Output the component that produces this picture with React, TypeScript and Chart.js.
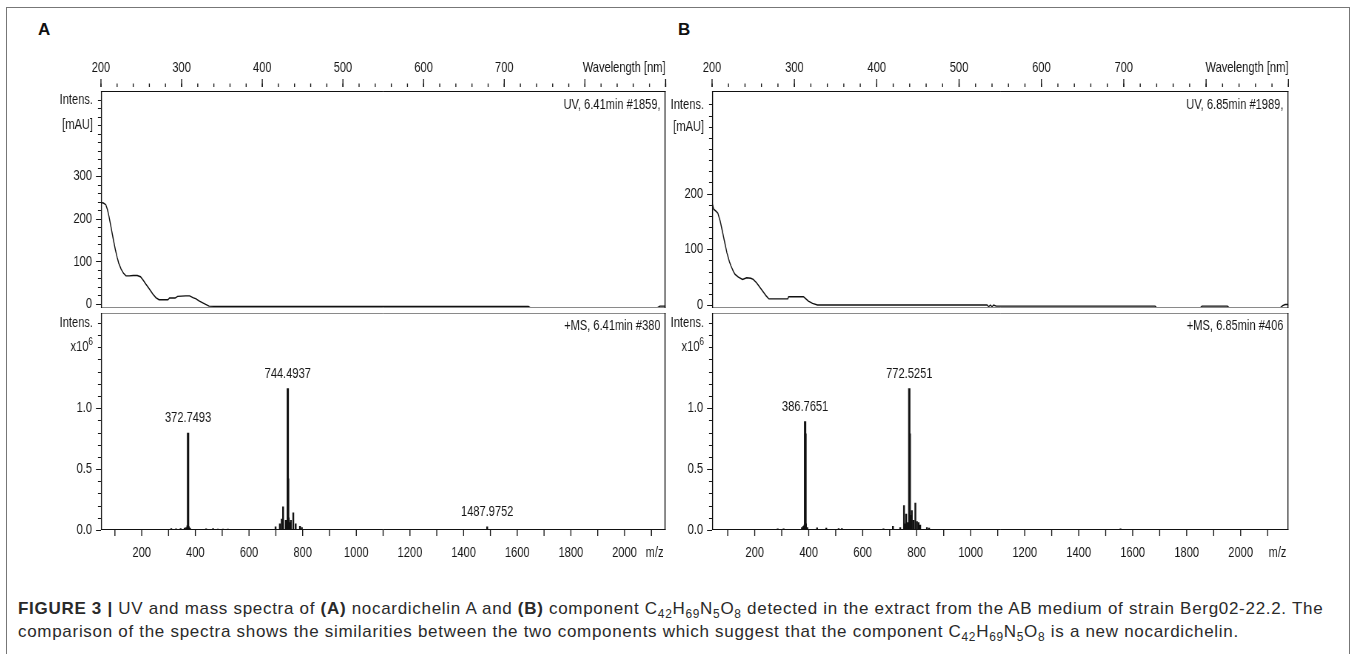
import React, { useEffect, useRef } from "react";
import { Chart, registerables } from "chart.js";

Chart.register(...registerables);

const SANS = "'Liberation Sans', Arial, Helvetica, sans-serif";
const INK = "#161616";

// ---------- Panel A: UV spectrum (nm, mAU)
const uvA_nm = [200, 203, 206, 208, 210, 212, 214, 216, 218, 220, 222, 225, 228, 231, 235, 240, 245, 249, 252, 256, 260, 264, 268, 272, 278, 283, 285, 292, 295, 305, 310, 314, 318, 321, 325, 328, 331, 334, 340, 500, 730, 732, 890, 893, 900];
const uvA_mAU = [238, 237, 233, 222, 205, 185, 165, 145, 126, 110, 96, 82, 72, 66, 66, 67, 67, 64, 57, 46, 35, 24, 15, 10, 10, 10, 14, 14, 18, 19, 19, 15, 12, 8, 4, 1, -2, -5, -5.5, -5.5, -5.5, -8.5, -8.5, -5, -5];

// ---------- Panel B: UV spectrum (nm, mAU)
const uvB_nm = [200, 202, 205, 207, 210, 212, 215, 218, 221, 223, 226, 228, 232, 237, 242, 247, 250, 254, 258, 262, 266, 269, 280, 292, 293, 311, 314, 317, 322, 328, 534, 536, 538, 540, 542, 545, 548, 738, 740, 793, 795, 826, 828, 890, 893, 896, 899, 900];
const uvB_mAU = [183, 172, 168, 165, 150, 136, 115, 94, 78, 70, 60, 55, 50, 46, 49, 48, 46, 40, 32, 24, 16, 11, 11, 11, 15, 15, 11, 7, 3, 0, 0, -3, 0, -3, 0, -2, -2, -2, -5, -5, -2, -2, -5, -5, -1, 1, 1, -1];

// ---------- Panel A: mass spectrum (m/z, intensity x10^6)
const msA_mz = [310, 328, 345, 360, 366, 370, 372.7493, 373.8, 375.5, 380, 440, 466, 484, 503, 521, 699, 715, 722, 727, 737, 742, 744.4937, 745.6, 748, 752, 756, 765, 774, 790, 797, 1487.9752];
const msA_int = [0.012, 0.01, 0.012, 0.015, 0.02, 0.035, 0.795, 0.03, 0.025, 0.015, 0.01, 0.012, 0.008, 0.008, 0.008, 0.025, 0.05, 0.09, 0.19, 0.08, 0.06, 1.16, 0.42, 0.1, 0.06, 0.08, 0.14, 0.05, 0.03, 0.02, 0.025];
const msA_labelMz = [372.7493, 744.4937, 1487.9752];
const msA_labelInt = [0.795, 1.16, 0.025];

// ---------- Panel B: mass spectrum (m/z, intensity x10^6)
const msB_mz = [285, 307, 375, 380, 384, 386.7651, 387.9, 390, 395, 431, 465, 511, 523, 677, 712, 739, 753, 757, 761, 766, 772.5251, 774.3, 778, 782, 788, 795, 801, 807, 813, 838, 846, 1555];
const msB_int = [0.01, 0.01, 0.02, 0.03, 0.04, 0.89, 0.79, 0.05, 0.02, 0.018, 0.015, 0.012, 0.012, 0.01, 0.03, 0.02, 0.2, 0.05, 0.13, 0.06, 1.16, 0.79, 0.12, 0.16, 0.08, 0.22, 0.07, 0.06, 0.04, 0.02, 0.015, 0.01];
const msB_labelMz = [386.7651, 772.5251];
const msB_labelInt = [0.89, 1.16];

// ---------- Tick labels
const wlLabelTicks = [200, 300, 400, 500, 600, 700];
const mzLabelTicks = [200, 400, 600, 800, 1000, 1200, 1400, 1600, 1800, 2000];
const uvA_yLabels = [0, 100, 200, 300];
const uvB_yLabels = [0, 100, 200];
const ms_yLabels = [0, 0.5, 1.0];

function range(a: number, b: number, step: number): number[] {
  const out: number[] = [];
  for (let v = a; v <= b + 1e-9; v += step) out.push(Math.round(v * 1000) / 1000);
  return out;
}

// horizontal compression of the chart canvases (narrow instrument font look)
const K = 0.74;
const TOP_AXIS_H = 41;
const BOTTOM_AXIS_H = 50;
const PAD_FREE = 20;
const FONT_PX = 15;

function drawText(ctx: CanvasRenderingContext2D, text: string, x: number, y: number, align: CanvasTextAlign, size = FONT_PX) {
  ctx.save();
  ctx.font = `${size}px ${SANS}`;
  ctx.textAlign = align;
  ctx.textBaseline = "middle";
  ctx.fillStyle = INK;
  ctx.fillText(text, x, y);
  ctx.restore();
}

type TickSpec = { scale: string; side: "left" | "top" | "bottom"; values: number[]; len: number; offset?: number };
type SpecCfg = {
  frame: { top: string; bottom: string; left: string; right: string };
  ticks: TickSpec[];
  corner: string;
  cornerY: number;
  axisWord: string;
  axisSide: "top" | "bottom";
  yWords: { text: string; value: number; sup?: string }[];
  peakMz?: number[];
  peakInt?: number[];
};

function specPlugin(cfg: SpecCfg) {
  return {
    id: "spec",
    afterDraw(chart: any) {
      const { ctx, chartArea: a, scales } = chart;
      const ys = scales.y;
      const xs = scales.x;
      ctx.save();
      ctx.strokeStyle = INK;
      for (const t of cfg.ticks) {
        const sc = scales[t.scale];
        ctx.beginPath();
        for (const v of t.values) {
          const p = sc.getPixelForValue(v);
          if (t.side === "left") {
            const py = Math.round(p) + 0.5;
            ctx.moveTo(a.left, py);
            ctx.lineTo(a.left - t.len / K, py);
          } else if (t.side === "top") {
            const y0 = a.top - (t.offset || 0);
            ctx.moveTo(p, y0);
            ctx.lineTo(p, y0 - t.len);
          } else {
            const y0 = a.bottom + (t.offset || 0);
            ctx.moveTo(p, y0);
            ctx.lineTo(p, y0 + t.len);
          }
        }
        ctx.lineWidth = t.side === "left" ? 1 : 1 / K;
        ctx.stroke();
      }
      const L = a.left + 0.5 / K;
      const R = a.right - 0.5 / K;
      const T = Math.round(a.top) + 0.5;
      const B = Math.round(a.bottom) - 0.5;
      const seg = (x1: number, y1: number, x2: number, y2: number, c: string, w: number) => {
        ctx.strokeStyle = c;
        ctx.lineWidth = w;
        ctx.beginPath();
        ctx.moveTo(x1, y1);
        ctx.lineTo(x2, y2);
        ctx.stroke();
      };
      seg(a.left, T, a.right, T, cfg.frame.top, 1);
      seg(a.left, B, a.right, B, cfg.frame.bottom, 1);
      seg(L, T - 0.5, L, B + 0.5, cfg.frame.left, 1 / K);
      seg(R, T - 0.5, R, B + 0.5, cfg.frame.right, 1 / K);

      drawText(ctx, cfg.corner, a.right - 5 / K, a.top + cfg.cornerY, "right");
      if (cfg.axisSide === "top") drawText(ctx, cfg.axisWord, a.right, a.top - 23, "right");
      else drawText(ctx, cfg.axisWord, a.right - 2 / K, a.bottom + 23, "right");
      for (const w of cfg.yWords) {
        const y = ys.getPixelForValue(w.value);
        const xr = a.left - 8 / K;
        if (w.sup) {
          ctx.save();
          ctx.font = `11px ${SANS}`;
          const sw = ctx.measureText(w.sup).width;
          ctx.restore();
          drawText(ctx, w.sup, xr, y - 5, "right", 11);
          drawText(ctx, w.text, xr - sw, y, "right");
        } else {
          drawText(ctx, w.text, xr, y, "right");
        }
      }
      if (cfg.peakMz && cfg.peakInt) {
        cfg.peakMz.forEach((m, i) => {
          const px = xs.getPixelForValue(m);
          const py = ys.getPixelForValue(cfg.peakInt![i]);
          drawText(ctx, m.toFixed(4), px, py - 15, "center");
        });
      }
      ctx.restore();
    },
  };
}

const tickFont = { family: SANS, size: FONT_PX };

type Geo = { left: number; top: number; wc: number; yW: number; padR: number };
function geo(screenLeft: number, plotLeft: number, plotRight: number, top: number): Geo {
  const wc = Math.ceil((plotRight + 14 - screenLeft) / K);
  return { left: screenLeft, top, wc, yW: (plotLeft - screenLeft) / K, padR: wc - (plotRight - screenLeft) / K };
}

function uvChart(canvas: HTMLCanvasElement, g: Geo, nm: number[], mau: number[], yMin: number, yMax: number, yLabels: number[], minorTop: number, words: { text: string; value: number }[], corner: string) {
  return new Chart(canvas, {
    type: "line",
    data: {
      datasets: [
        {
          data: nm.map((x, i) => ({ x, y: mau[i] })),
          borderColor: "#111",
          borderWidth: 1.4,
          pointRadius: 0,
          tension: 0,
          fill: false,
        },
      ],
    },
    options: {
      animation: false,
      responsive: false,
      devicePixelRatio: 1,
      events: [],
      layout: { padding: { left: 0, top: 0, right: g.padR, bottom: PAD_FREE } },
      plugins: { legend: { display: false }, tooltip: { enabled: false } },
      scales: {
        x: {
          type: "linear",
          position: "top",
          min: 200,
          max: 900,
          afterBuildTicks: (s: any) => {
            s.ticks = wlLabelTicks.map((v) => ({ value: v }));
          },
          afterFit: (s: any) => {
            s.height = TOP_AXIS_H;
          },
          grid: { display: false, drawTicks: false },
          border: { display: false },
          ticks: { padding: 14, autoSkip: false, maxRotation: 0, font: tickFont, color: INK, callback: (v: any) => String(v) },
        },
        y: {
          type: "linear",
          min: yMin,
          max: yMax,
          afterBuildTicks: (s: any) => {
            s.ticks = yLabels.map((v) => ({ value: v }));
          },
          afterFit: (s: any) => {
            s.width = g.yW;
          },
          grid: { display: false, drawTicks: false },
          border: { display: false },
          ticks: { padding: 9 / K, autoSkip: false, font: tickFont, color: INK, callback: (v: any) => String(v) },
        },
      },
    } as any,
    plugins: [
      specPlugin({
        frame: { top: "#111", left: "#111", right: "#111", bottom: "#8a8a8a" },
        ticks: [
          { scale: "x", side: "top", values: range(200, 900, 20), len: 3.5, offset: 4 },
          { scale: "x", side: "top", values: range(200, 900, 100), len: 8, offset: 4 },
          { scale: "y", side: "left", values: range(0, minorTop, 20), len: 3 },
          { scale: "y", side: "left", values: yLabels, len: 5 },
        ],
        corner: corner,
        cornerY: 14,
        axisWord: "Wavelength [nm]",
        axisSide: "top",
        yWords: words,
      }),
    ] as any,
  });
}

function msChart(canvas: HTMLCanvasElement, g: Geo, mz: number[], inten: number[], xMin: number, xMax: number, labelMz: number[], labelInt: number[], corner: string) {
  const pts = mz.map((x, i) => ({ x, y: inten[i] }));
  const big = pts.filter((p) => p.y >= 0.3);
  const small = pts.filter((p) => p.y < 0.3);
  return new Chart(canvas, {
    type: "bar",
    data: {
      datasets: [
        { data: small, backgroundColor: "#111", barThickness: 1.3 / K, grouped: false, borderWidth: 0 },
        { data: big, backgroundColor: "#111", barThickness: 1.8 / K, grouped: false, borderWidth: 0 },
      ],
    },
    options: {
      animation: false,
      responsive: false,
      devicePixelRatio: 1,
      events: [],
      layout: { padding: { left: 0, top: PAD_FREE, right: g.padR, bottom: 0 } },
      plugins: { legend: { display: false }, tooltip: { enabled: false } },
      scales: {
        x: {
          type: "linear",
          position: "bottom",
          min: xMin,
          max: xMax,
          offset: false,
          afterBuildTicks: (s: any) => {
            s.ticks = mzLabelTicks.map((v) => ({ value: v }));
          },
          afterFit: (s: any) => {
            s.height = BOTTOM_AXIS_H;
          },
          grid: { display: false, drawTicks: false, offset: false },
          border: { display: false },
          ticks: { padding: 14, autoSkip: false, maxRotation: 0, font: tickFont, color: INK, callback: (v: any) => String(v) },
        },
        y: {
          type: "linear",
          min: 0,
          max: 1.78,
          afterBuildTicks: (s: any) => {
            s.ticks = ms_yLabels.map((v) => ({ value: v }));
          },
          afterFit: (s: any) => {
            s.width = g.yW;
          },
          grid: { display: false, drawTicks: false },
          border: { display: false },
          ticks: { padding: 9 / K, autoSkip: false, font: tickFont, color: INK, callback: (v: any) => Number(v).toFixed(1) },
        },
      },
    } as any,
    plugins: [
      specPlugin({
        frame: { top: "#8a8a8a", left: "#111", right: "#111", bottom: "#111" },
        ticks: [
          { scale: "x", side: "bottom", values: range(100, 2100, 100), len: 6 },
          { scale: "y", side: "left", values: range(0, 1.7, 0.1), len: 3 },
          { scale: "y", side: "left", values: ms_yLabels, len: 5 },
        ],
        corner: corner,
        cornerY: 13,
        axisWord: "m/z",
        axisSide: "bottom",
        yWords: [
          { text: "Intens.", value: 1.7 },
          { text: "x10", value: 1.5, sup: "6" },
        ],
        peakMz: labelMz,
        peakInt: labelInt,
      }),
    ] as any,
  });
}

// Geometry of plot frames (screen pixels)
const A_LEFT = 101, A_RIGHT = 666;
const B_LEFT = 712, B_RIGHT = 1288;
const UV_TOP = 91, UV_BOTTOM = 309, MS_TOP = 312, MS_BOTTOM = 530;

const gUvA = geo(30, A_LEFT, A_RIGHT, UV_TOP - TOP_AXIS_H);
const gMsA = geo(30, A_LEFT, A_RIGHT, MS_TOP - PAD_FREE);
const gUvB = geo(641, B_LEFT, B_RIGHT, UV_TOP - TOP_AXIS_H);
const gMsB = geo(641, B_LEFT, B_RIGHT, MS_TOP - PAD_FREE);
const UV_H = TOP_AXIS_H + (UV_BOTTOM - UV_TOP) + PAD_FREE;
const MS_H = PAD_FREE + (MS_BOTTOM - MS_TOP) + BOTTOM_AXIS_H;

export default function App() {
  const uvA = useRef<HTMLCanvasElement>(null);
  const msA = useRef<HTMLCanvasElement>(null);
  const uvB = useRef<HTMLCanvasElement>(null);
  const msB = useRef<HTMLCanvasElement>(null);

  useEffect(() => {
    const charts = [
      uvChart(uvA.current!, gUvA, uvA_nm, uvA_mAU, -9, 500, uvA_yLabels, 480, [
        { text: "Intens.", value: 480 },
        { text: "[mAU]", value: 420 },
      ], "UV, 6.41min #1859,"),
      msChart(msA.current!, gMsA, msA_mz, msA_int, 48, 2153, msA_labelMz, msA_labelInt, "+MS, 6.41min #380"),
      uvChart(uvB.current!, gUvB, uvB_nm, uvB_mAU, -5, 384, uvB_yLabels, 360, [
        { text: "Intens.", value: 360 },
        { text: "[mAU]", value: 320 },
      ], "UV, 6.85min #1989,"),
      msChart(msB.current!, gMsB, msB_mz, msB_int, 42, 2177, msB_labelMz, msB_labelInt, "+MS, 6.85min #406"),
    ];
    return () => charts.forEach((c) => c.destroy());
  }, []);

  const cv = (g: Geo, h: number): React.CSSProperties => ({
    position: "absolute",
    left: g.left,
    top: g.top,
    width: g.wc * K,
    height: h,
  });
  const sub: React.CSSProperties = { fontSize: "0.7em", verticalAlign: "-0.3em", lineHeight: 0 };

  return (
    <div style={{ position: "fixed", left: 0, top: 0, width: 1357, height: 654, background: "#fff", overflow: "hidden" }}>
      <div style={{ position: "absolute", left: 6, top: 7, width: 1344, height: 660, border: "1px solid #777", boxSizing: "border-box" }} />
      <div style={{ position: "absolute", left: 38, top: 20, fontFamily: SANS, fontWeight: 700, fontSize: 17, color: "#111" }}>A</div>
      <div style={{ position: "absolute", left: 678, top: 20, fontFamily: SANS, fontWeight: 700, fontSize: 17, color: "#111" }}>B</div>

      <canvas ref={uvA} width={gUvA.wc} height={UV_H} style={cv(gUvA, UV_H)} />
      <canvas ref={msA} width={gMsA.wc} height={MS_H} style={cv(gMsA, MS_H)} />
      <canvas ref={uvB} width={gUvB.wc} height={UV_H} style={cv(gUvB, UV_H)} />
      <canvas ref={msB} width={gMsB.wc} height={MS_H} style={cv(gMsB, MS_H)} />

      <div
        style={{
          position: "absolute",
          left: 18,
          top: 597,
          fontFamily: SANS,
          fontSize: 17,
          letterSpacing: "0.7px",
          lineHeight: "23px",
          color: "#2a2a2a",
          whiteSpace: "nowrap",
        }}
      >
        <b>FIGURE 3 |</b> UV and mass spectra of <b>(A)</b> nocardichelin A and <b>(B)</b> component C<span style={sub}>42</span>H<span style={sub}>69</span>N<span style={sub}>5</span>O<span style={sub}>8</span> detected in the extract from the AB medium of strain Berg02-22.2. The
        <br />
        comparison of the spectra shows the similarities between the two components which suggest that the component C<span style={sub}>42</span>H<span style={sub}>69</span>N<span style={sub}>5</span>O<span style={sub}>8</span> is a new nocardichelin.
      </div>
    </div>
  );
}
